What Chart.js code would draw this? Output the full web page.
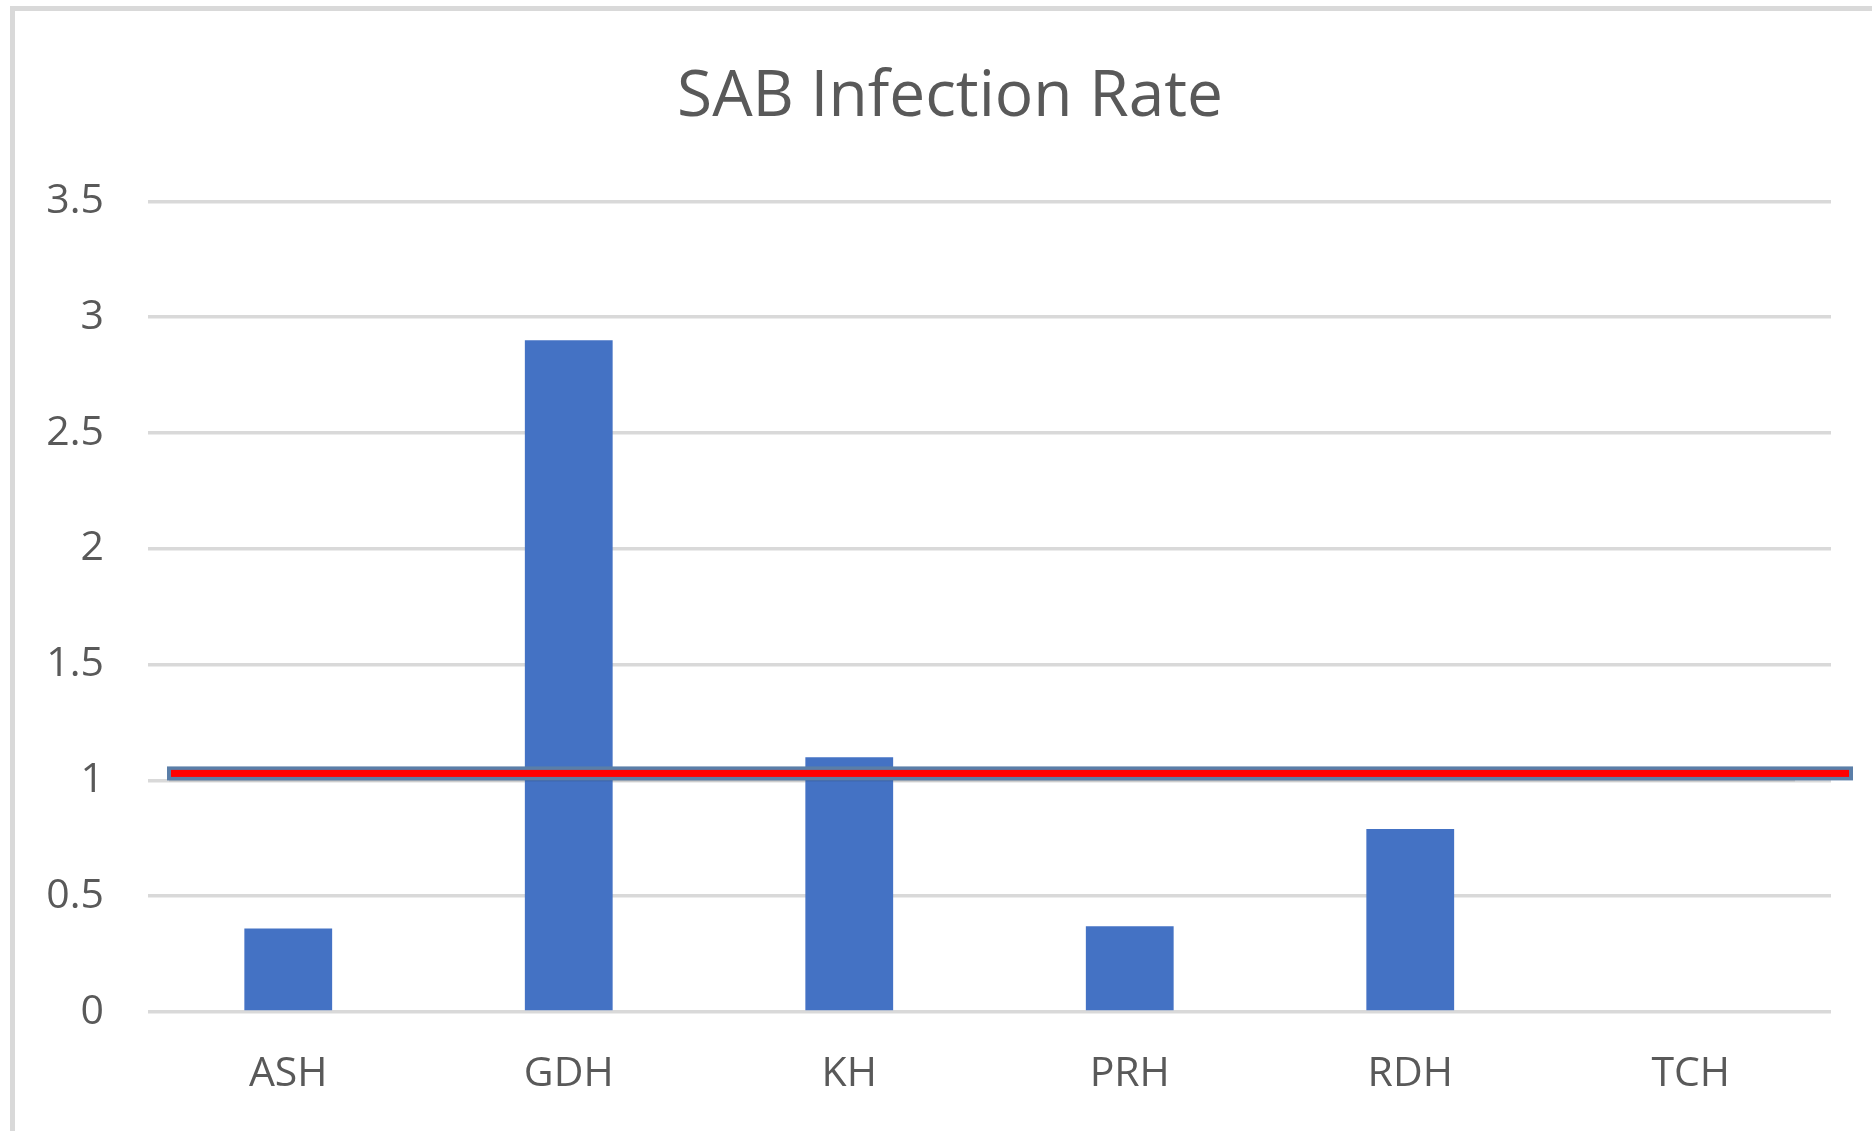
<!DOCTYPE html>
<html>
<head>
<meta charset="utf-8">
<title>SAB Infection Rate</title>
<script src="https://cdn.jsdelivr.net/npm/chart.js@4.4.1/dist/chart.umd.min.js"></script>
<style>
  html, body { margin: 0; padding: 0; background: #fff; overflow: hidden; }
  #chart { display: block; }
</style>
</head>
<body>
<!-- the original frame runs past the right edge of the page, so the canvas does too -->
<canvas id="chart" width="1900" height="1131"></canvas>
<script>
const hospitals = ['ASH', 'GDH', 'KH', 'PRH', 'RDH', 'TCH'];
const infectionRate = [0.36, 2.9, 1.1, 0.37, 0.79, 0];
const targetRate = 1.03;
const yTicks = [0, 0.5, 1, 1.5, 2, 2.5, 3, 3.5];

const textColor = '#595959';
const fontFamily = '"Open Sans", "Noto Sans", sans-serif';

// light grey frame around the chart, right and bottom edges fall off the page
const frame = {
  id: 'frame',
  beforeDraw(chart) {
    const ctx = chart.ctx;
    ctx.save();
    ctx.strokeStyle = '#d9d9d9';
    ctx.lineWidth = 5;
    ctx.strokeRect(12.5, 8.5, chart.width + 40, chart.height + 40);
    ctx.restore();
  }
};

// the red target line sitting on top of the bars
const targetLine = {
  id: 'targetLine',
  afterDatasetsDraw(chart) {
    const ctx = chart.ctx;
    const y = chart.scales.y.getPixelForValue(targetRate);
    const x0 = chart.chartArea.left + 19;
    const x1 = chart.chartArea.right + 22;
    ctx.save();
    ctx.fillStyle = 'rgba(0,0,0,0.12)';
    ctx.fillRect(x0 + 2, y + 5, x1 - x0 - 60, 3);
    ctx.fillStyle = '#5a7ea8';
    ctx.fillRect(x0, y - 7, x1 - x0, 14);
    ctx.fillStyle = '#ff0000';
    ctx.fillRect(x0 + 4, y - 3.5, x1 - x0 - 8, 7);
    ctx.restore();
  }
};

new Chart(document.querySelector('#chart').getContext('2d'), {
  type: 'bar',
  data: {
    labels: hospitals,
    datasets: [{
      label: 'SAB Infection Rate',
      data: infectionRate,
      backgroundColor: '#4472c4',
      borderWidth: 0,
      categoryPercentage: 1,
      barPercentage: 0.313
    }]
  },
  options: {
    responsive: false,
    animation: false,
    layout: { padding: 0 },
    plugins: {
      legend: { display: false },
      tooltip: { enabled: false },
      title: {
        display: true,
        text: 'SAB Infection Rate',
        color: textColor,
        font: { family: fontFamily, size: 64, weight: 'normal' },
        padding: { top: 59, bottom: 65.5 }
      }
    },
    scales: {
      x: {
        grid: { display: false, drawTicks: false },
        border: { display: false },
        ticks: { color: textColor, font: { family: fontFamily, size: 41 }, padding: 38 },
        afterFit(scale) { scale.height = 119; }
      },
      y: {
        min: 0,
        max: 3.5,
        grid: { color: '#d9d9d9', lineWidth: 3.5, drawTicks: false },
        border: { display: false },
        afterBuildTicks(scale) { scale.ticks = yTicks.map(v => ({ value: v })); },
        ticks: {
          color: textColor,
          font: { family: fontFamily, size: 41 },
          padding: 44,
          callback: v => String(v)
        },
        afterFit(scale) { scale.width = 148; }
      },
      // empty spacer on the right, keeps the title centred on the whole frame
      spacer: {
        type: 'linear',
        position: 'right',
        grid: { display: false, drawTicks: false },
        border: { display: false },
        ticks: { display: false },
        afterFit(scale) { scale.width = 69; }
      }
    }
  },
  plugins: [frame, targetLine]
});
</script>
</body>
</html>
